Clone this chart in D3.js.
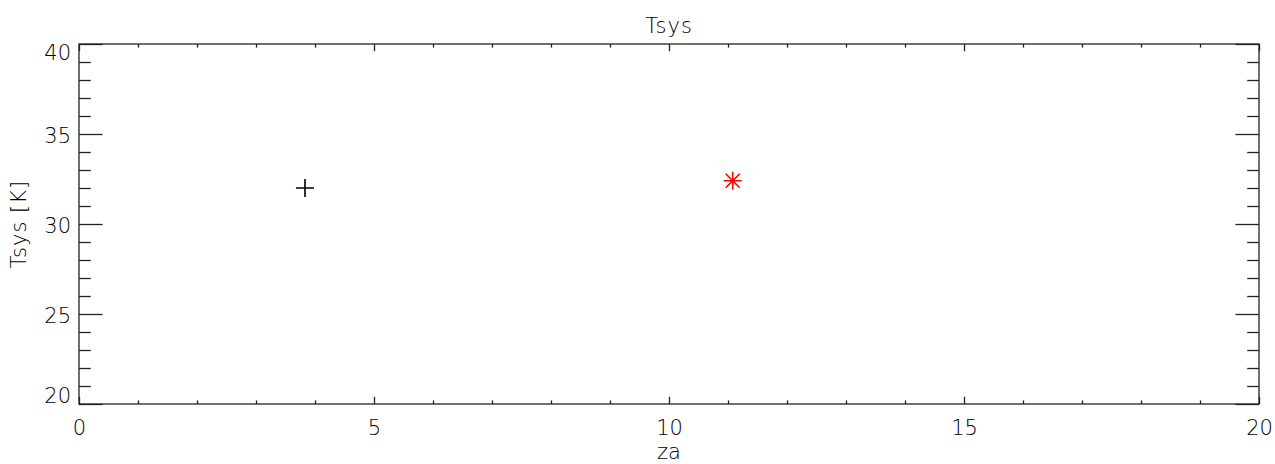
<!DOCTYPE html>
<html lang="en">
<head>
    <meta charset="UTF-8">
    <title>Tsys</title>
    <script src="https://d3js.org/d3.v7.min.js"></script>
    <style>
        body { margin: 0; background: #fff; }
        text {
            font-family: "DejaVu Sans", sans-serif;
            font-weight: 200;
            font-size: 21px;
            fill: #000;
        }
        .frame, .tick line { stroke: #222; stroke-width: 1.3; fill: none; }
    </style>
</head>
<body>
    <script>
        // Data
        const plusZa = [3.83];
        const plusTsys = [32.0];
        const starZa = [11.08];
        const starTsys = [32.4];
        const xTicks = [0, 5, 10, 15, 20];
        const yTicks = [20, 25, 30, 35, 40];

        // Set dimensions and margins
        const W = 1275, H = 464;
        const margin = {top: 44, right: 16, bottom: 60, left: 79};
        const width = W - margin.left - margin.right;
        const height = H - margin.top - margin.bottom;

        const svg = d3.select("body")
            .append("svg")
            .attr("width", W)
            .attr("height", H);

        const g = svg.append("g")
            .attr("transform", `translate(${margin.left},${margin.top})`);

        const x = d3.scaleLinear().domain([0, 20]).range([0, width]);
        const y = d3.scaleLinear().domain([20, 40]).range([height, 0]);

        // IDL style tick lengths
        const xMaj = height * 0.02, yMaj = width * 0.02;
        const xMinorVals = d3.range(0, 21, 1).filter(v => v % 5 !== 0);
        const yMinorVals = d3.range(20, 41, 1).filter(v => v % 5 !== 0);

        // Bottom / top axes
        g.append("g")
            .attr("transform", `translate(0,${height})`)
            .call(d3.axisBottom(x).tickValues(xTicks).tickSize(-xMaj).tickPadding(16).tickFormat(d3.format("d")))
            .call(a => a.select(".domain").remove());
        g.append("g")
            .attr("transform", `translate(0,${height})`)
            .call(d3.axisBottom(x).tickValues(xMinorVals).tickSize(-xMaj / 2).tickFormat(""))
            .call(a => a.select(".domain").remove());
        g.append("g")
            .call(d3.axisTop(x).tickValues(xTicks).tickSize(-xMaj).tickFormat(""))
            .call(a => a.select(".domain").remove());
        g.append("g")
            .call(d3.axisTop(x).tickValues(xMinorVals).tickSize(-xMaj / 2).tickFormat(""))
            .call(a => a.select(".domain").remove());

        // Left / right axes
        const yl = g.append("g")
            .call(d3.axisLeft(y).tickValues(yTicks).tickSize(-yMaj).tickPadding(8).tickFormat(d3.format("d")))
            .call(a => a.select(".domain").remove());
        yl.selectAll("text")
            .attr("dy", d => d === 40 ? "0.72em" : d === 20 ? "-0.05em" : "0.4em");
        g.append("g")
            .call(d3.axisLeft(y).tickValues(yMinorVals).tickSize(-yMaj / 2).tickFormat(""))
            .call(a => a.select(".domain").remove());
        g.append("g")
            .attr("transform", `translate(${width},0)`)
            .call(d3.axisRight(y).tickValues(yTicks).tickSize(-yMaj).tickFormat(""))
            .call(a => a.select(".domain").remove());
        g.append("g")
            .attr("transform", `translate(${width},0)`)
            .call(d3.axisRight(y).tickValues(yMinorVals).tickSize(-yMaj / 2).tickFormat(""))
            .call(a => a.select(".domain").remove());

        g.selectAll(".tick text").attr("fill", "#000").style("font-size", "21px");

        // Frame
        g.append("rect")
            .attr("class", "frame")
            .attr("width", width)
            .attr("height", height);

        // Title and axis labels
        svg.append("text")
            .attr("x", margin.left + width / 2)
            .attr("y", 33)
            .attr("text-anchor", "middle")
            .style("letter-spacing", "1px")
            .text("Tsys");
        svg.append("text")
            .attr("x", margin.left + width / 2)
            .attr("y", 459)
            .attr("text-anchor", "middle")
            .text("za");
        svg.append("text")
            .attr("transform", `translate(26,${margin.top + height / 2}) rotate(-90)`)
            .attr("text-anchor", "middle")
            .style("letter-spacing", "1px")
            .text("Tsys [K]");

        // Plus markers
        const plus = d3.range(plusZa.length);
        g.selectAll("path.plus")
            .data(plus)
            .enter()
            .append("path")
            .attr("class", "plus")
            .attr("transform", i => `translate(${x(plusZa[i])},${y(plusTsys[i])})`)
            .attr("d", "M-9,0H9M0,-9V9")
            .attr("stroke", "#000")
            .attr("stroke-width", 1.6);

        // Asterisk markers
        const star = d3.range(starZa.length);
        g.selectAll("path.star")
            .data(star)
            .enter()
            .append("path")
            .attr("class", "star")
            .attr("transform", i => `translate(${x(starZa[i])},${y(starTsys[i])})`)
            .attr("d", "M-9,0H9M0,-9V9M-7,-7L7,7M-7,7L7,-7")
            .attr("stroke", "#f00")
            .attr("stroke-width", 1.6);
    </script>
</body>
</html>
